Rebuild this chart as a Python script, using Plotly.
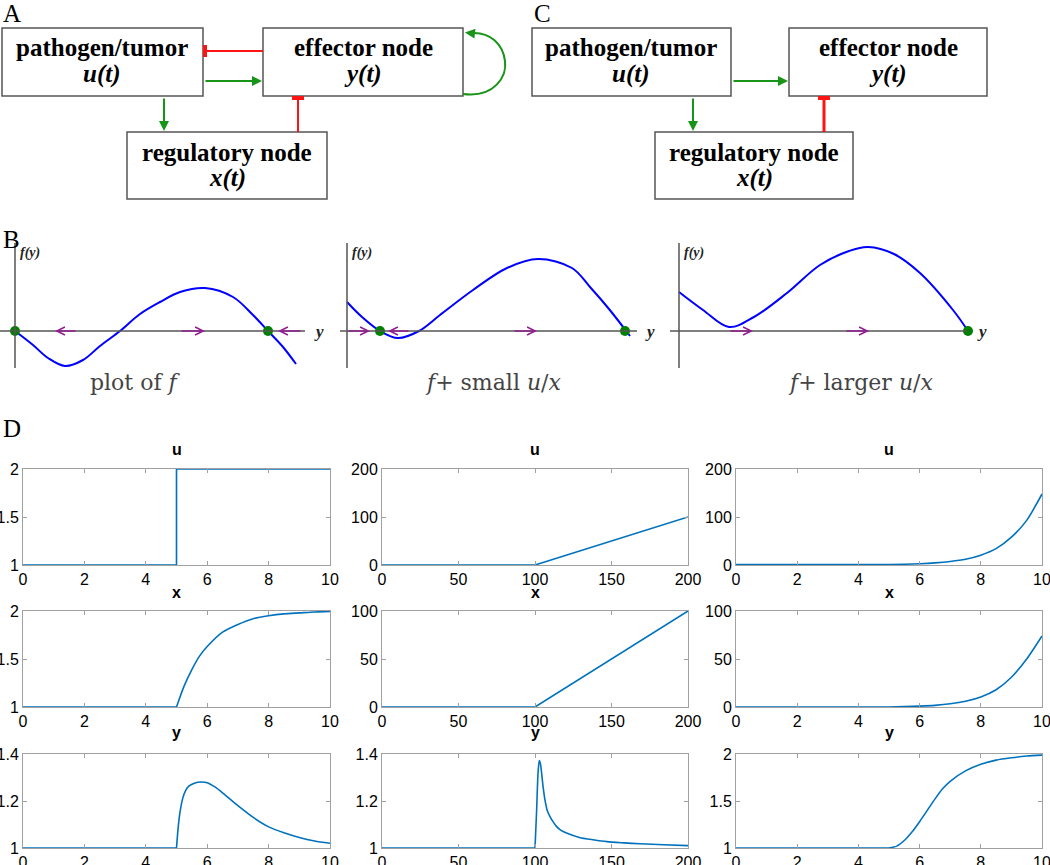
import plotly.graph_objects as go

W, H = 1050, 865

# ---------------- Panel D data ----------------
t1_u = [0, 5, 5, 10]
u1 = [1, 1, 2, 2]
t1_x = [0, 5, 5.25, 5.5, 5.75, 6, 6.5, 7, 7.5, 8, 8.5, 9, 9.5, 10]
x1 = [1, 1, 1.22, 1.39, 1.53, 1.63, 1.78, 1.86, 1.92, 1.95, 1.97, 1.98, 1.99, 1.995]
t1_y = [0, 5, 5.05, 5.1, 5.2, 5.3, 5.4, 5.6, 5.8, 6, 6.25, 6.5, 7, 7.5, 8, 8.5, 9, 9.5, 10]
y1 = [1, 1, 1.08, 1.14, 1.21, 1.245, 1.263, 1.277, 1.281, 1.278, 1.26, 1.235, 1.18, 1.13,
      1.09, 1.065, 1.045, 1.03, 1.02]

t2_u = [0, 100, 200]
u2 = [0, 0, 100]
t2_x = [0, 100, 200]
x2 = [0, 0, 100]
t2_y = [0, 100, 101, 102, 102.8, 103.5, 104.3, 105.3, 106.5, 108, 109.8, 112, 114, 117,
        120.6, 129, 138, 147, 158, 168.5, 184, 200]
y2 = [1, 1, 1.15, 1.32, 1.372, 1.36, 1.32, 1.26, 1.205, 1.16, 1.134, 1.11, 1.092, 1.075,
      1.064, 1.045, 1.035, 1.027, 1.022, 1.018, 1.014, 1.01]

t3_u = [0, 5, 5.5, 6, 6.5, 7, 7.5, 8, 8.5, 9, 9.5, 10]
u3 = [1, 1, 1.6, 2.7, 4.5, 7.4, 12, 20.5, 34, 58, 93, 148]
t3_x = [0, 5, 5.5, 6, 6.5, 7, 7.5, 8, 8.5, 9, 9.5, 10]
x3 = [0, 0, 0.4, 0.9, 1.7, 3.3, 6, 10.5, 18, 31, 50, 74]
t3_y = [0, 5, 5.25, 5.5, 5.75, 6, 6.25, 6.5, 6.75, 7, 7.5, 8, 8.5, 9, 9.5, 10]
y3 = [1, 1, 1.02, 1.08, 1.17, 1.28, 1.4, 1.52, 1.63, 1.71, 1.82, 1.89, 1.935, 1.96, 1.978, 1.988]

row_titles = ["u", "x", "y"]
series = [
    [(t1_u, u1), (t2_u, u2), (t3_u, u3)],
    [(t1_x, x1), (t2_x, x2), (t3_x, x3)],
    [(t1_y, y1), (t2_y, y2), (t3_y, y3)],
]
# index where the smooth (curved) part of each series starts; None = straight segments only
curve_start = [
    [None, None, 1],
    [1, None, 1],
    [1, 1, 1],
]
x_ranges = [[0, 10], [0, 200], [0, 10]]
x_ticks = [[0, 2, 4, 6, 8, 10], [0, 50, 100, 150, 200], [0, 2, 4, 6, 8, 10]]
y_ranges = [
    [[1, 2], [0, 200], [0, 200]],
    [[1, 2], [0, 100], [0, 100]],
    [[1, 1.4], [1, 1.4], [1, 2]],
]
y_ticks = [
    [[1, 1.5, 2], [0, 100, 200], [0, 100, 200]],
    [[1, 1.5, 2], [0, 50, 100], [0, 50, 100]],
    [[1, 1.2, 1.4], [1, 1.2, 1.4], [1, 1.5, 2]],
]

# ---------------- Panel B data (relative units, origin at axes cross) ----------------
b1_y = [0, 18, 33, 50, 68, 85, 105, 125, 145, 165, 190, 218, 238, 253, 268, 281]
b1_f = [0, -14, -27, -35, -29, -15, 0, 17, 29, 39, 43, 34, 16, 0, -16, -33]
b2_y = [0, 15, 33, 51, 72, 93, 126, 160, 191, 225, 243, 262, 283]
b2_f = [29, 14, 0, -7, 0, 16, 41, 63, 72, 63, 44, 22, -5]
b3_y = [0, 24, 50, 75, 108, 141, 170, 189, 215, 241, 274, 289]
b3_f = [39, 21, 4, 14, 38, 66, 80, 84, 77, 58, 21, 0]
b_curves = [(b1_y, b1_f), (b2_y, b2_f), (b3_y, b3_f)]
b_stable = [[0, 253], [33, 278], [289]]
b_unstable = [[105], [72], []]
b_arrows = [  # (tail, head) along the y axis
    [(62, 40), (165, 190), (287, 263)],
    [(0, 23), (63, 41), (166, 190)],
    [(50, 74), (166, 190)],
]
b_captions = ["plot of <i>f</i>", "<i>f</i>+ small <i>u</i>/<i>x</i>", "<i>f</i>+ larger <i>u</i>/<i>x</i>"]

# ---------------- helpers ----------------
def px(x):
    return x / W

def py(y):
    return 1 - y / H

LINE_BLUE = "rgb(0,114,189)"
GRID_GREY = "#a0a0a0"
GREEN = "rgb(24,148,24)"
RED = "rgb(255,20,20)"
PURPLE = "rgb(145,30,145)"

fig = go.Figure()
layout = dict(
    width=W, height=H, margin=dict(l=0, r=0, t=0, b=0, pad=0), autosize=False,
    paper_bgcolor="white", plot_bgcolor="rgba(0,0,0,0)", showlegend=False,
)
annotations = []
shapes = []

col_px = [(23, 330), (382, 688), (736, 1042)]
row_px = [(469, 565), (611, 707), (754, 848)]
title_y = [450, 592, 732]

for r in range(3):
    for c in range(3):
        n = r * 3 + c + 1
        sfx = "" if n == 1 else str(n)
        t, v = series[r][c]
        k = curve_start[r][c]
        if k is None:
            fig.add_trace(go.Scatter(x=t, y=v, mode="lines", line=dict(color=LINE_BLUE, width=1.6),
                                     xaxis="x" + sfx, yaxis="y" + sfx, hoverinfo="skip"))
        else:
            fig.add_trace(go.Scatter(x=t[:k + 1], y=v[:k + 1], mode="lines",
                                     line=dict(color=LINE_BLUE, width=1.6),
                                     xaxis="x" + sfx, yaxis="y" + sfx, hoverinfo="skip"))
            fig.add_trace(go.Scatter(x=t[k:], y=v[k:], mode="lines",
                                     line=dict(color=LINE_BLUE, width=1.6, shape="spline", smoothing=0.7),
                                     xaxis="x" + sfx, yaxis="y" + sfx, hoverinfo="skip"))
        common = dict(showline=True, linecolor=GRID_GREY, linewidth=1, mirror="allticks",
                      ticks="inside", ticklen=4, tickcolor=GRID_GREY, showgrid=False,
                      zeroline=False, tickfont=dict(family="Liberation Sans, Arial", size=16, color="black"),
                      fixedrange=True, automargin=False, ticklabeloverflow="allow")
        layout["xaxis" + sfx] = dict(common, domain=[px(col_px[c][0]), px(col_px[c][1])],
                                     range=x_ranges[c], tickvals=x_ticks[c],
                                     ticktext=[str(k2) for k2 in x_ticks[c]], anchor="y" + sfx)
        yt = y_ticks[r][c]
        layout["yaxis" + sfx] = dict(common, domain=[py(row_px[r][1]), py(row_px[r][0])],
                                     range=y_ranges[r][c], tickvals=yt,
                                     ticktext=[("%g" % k2) for k2 in yt], anchor="x" + sfx)
        annotations.append(dict(xref="paper", yref="paper", x=px((col_px[c][0] + col_px[c][1]) / 2),
                                y=py(title_y[r]), text="<b>%s</b>" % row_titles[r], showarrow=False,
                                xanchor="center", yanchor="middle",
                                font=dict(family="Liberation Sans, Arial", size=16, color="black")))

# ---------------- Panel B axes ----------------
b_dom_px = [(0, 320), (340, 660), (670, 990)]
b_origin = [15, 347, 679]
b_axis_end = [290, 290, 288]
b_ylab = [297, 296, 296]
B_TOP, B_BOT, B_AXIS = 235, 380, 331
for i in range(3):
    n = 10 + i
    xa, ya = "x%d" % n, "y%d" % n
    x0 = b_dom_px[i][0] - b_origin[i]
    layout["xaxis%d" % n] = dict(domain=[px(b_dom_px[i][0]), px(b_dom_px[i][1])],
                                  range=[x0, x0 + (b_dom_px[i][1] - b_dom_px[i][0])],
                                  visible=False, fixedrange=True, anchor=ya)
    layout["yaxis%d" % n] = dict(domain=[py(B_BOT), py(B_TOP)],
                                  range=[B_AXIS - B_BOT, B_AXIS - B_TOP],
                                  visible=False, fixedrange=True, anchor=xa)
    shapes.append(dict(type="line", xref=xa, yref=ya, x0=0, x1=0, y0=88, y1=-37,
                       line=dict(color="#555555", width=1.5)))
    shapes.append(dict(type="line", xref=xa, yref=ya, x0=x0, x1=b_axis_end[i], y0=0, y1=0,
                       line=dict(color="#555555", width=1.5)))
    by, bf = b_curves[i]
    fig.add_trace(go.Scatter(x=by, y=bf, mode="lines", line=dict(color="#0000ff", width=2, shape="spline"),
                             xaxis=xa, yaxis=ya, hoverinfo="skip"))
    for tail, head in b_arrows[i]:
        annotations.append(dict(xref=xa, yref=ya, axref=xa, ayref=ya, x=head, y=0, ax=tail, ay=0,
                                showarrow=True, arrowhead=5, arrowsize=1, arrowwidth=1.6,
                                arrowcolor=PURPLE, text=""))
    if b_stable[i]:
        fig.add_trace(go.Scatter(x=b_stable[i], y=[0] * len(b_stable[i]), mode="markers",
                                 marker=dict(color="rgb(0,128,0)", size=10, line=dict(width=0)),
                                 xaxis=xa, yaxis=ya, hoverinfo="skip"))
    if b_unstable[i]:
        fig.add_trace(go.Scatter(x=b_unstable[i], y=[0] * len(b_unstable[i]), mode="markers",
                                 marker=dict(color="rgba(0,0,0,0)", size=9, symbol="circle-open",
                                             line=dict(color="red", width=1.6)),
                                 xaxis=xa, yaxis=ya, hoverinfo="skip"))
    annotations.append(dict(xref=xa, yref=ya, x=b_ylab[i], y=0, text="<b><i>y</i></b>", showarrow=False,
                            xanchor="left", yanchor="middle",
                            font=dict(family="Liberation Serif", size=17, color="#222")))
    annotations.append(dict(xref=xa, yref=ya, x=3, y=78, text="<b><i>f(y)</i></b>", showarrow=False,
                            xanchor="left", yanchor="middle",
                            font=dict(family="Liberation Serif", size=14, color="#222")))

cap_x = [135, 493, 860]
for i in range(3):
    annotations.append(dict(xref="paper", yref="paper", x=px(cap_x[i]), y=py(383), text=b_captions[i],
                            showarrow=False, xanchor="center", yanchor="middle",
                            font=dict(family="DejaVu Serif", size=22, color="#444")))

# ---------------- Panel letters ----------------
for letter, lx, ly in [("A", 1, 13), ("C", 532, 13), ("B", 1, 240), ("D", 1, 428)]:
    annotations.append(dict(xref="paper", yref="paper", x=px(lx), y=py(ly), text=letter, showarrow=False,
                            xanchor="left", yanchor="middle",
                            font=dict(family="Liberation Serif", size=25, color="black")))

# ---------------- Panels A and C: diagrams ----------------
def box(x0, y0, x1, y1):
    shapes.append(dict(type="rect", xref="paper", yref="paper", x0=px(x0), x1=px(x1), y0=py(y1), y1=py(y0),
                       line=dict(color="#555555", width=1.5), fillcolor="rgba(0,0,0,0)"))

def label(cx, cy, txt, italic=False):
    t = "<b><i>%s</i></b>" % txt if italic else "<b>%s</b>" % txt
    annotations.append(dict(xref="paper", yref="paper", x=px(cx), y=py(cy), text=t, showarrow=False,
                            xanchor="center", yanchor="middle",
                            font=dict(family="Liberation Serif", size=25, color="black")))

def green_arrow(x0, y0, x1, y1):
    annotations.append(dict(xref="paper", yref="paper", x=px(x1), y=py(y1), ax=x0 - x1, ay=y0 - y1,
                            showarrow=True, arrowhead=2, arrowsize=1, arrowwidth=2,
                            arrowcolor=GREEN, text=""))

def red_bar(x0, y0, x1, y1, bx0, by0, bx1, by1, w):
    shapes.append(dict(type="line", xref="paper", yref="paper", x0=px(x0), y0=py(y0), x1=px(x1), y1=py(y1),
                       line=dict(color=RED, width=w)))
    shapes.append(dict(type="rect", xref="paper", yref="paper", x0=px(bx0), x1=px(bx1), y0=py(by1), y1=py(by0),
                       line=dict(width=0), fillcolor=RED))

# A
box(2, 28, 203, 96)
box(263, 28, 463, 96)
box(127, 132, 327, 199)
label(102, 48, "pathogen/tumor")
label(102, 74, "u(t)", True)
label(363, 48, "effector node")
label(363, 74, "y(t)", True)
label(227, 152, "regulatory node")
label(227, 178, "x(t)", True)
red_bar(263, 51, 206, 51, 203, 45, 207, 57, 2)
green_arrow(204, 81, 262, 81)
green_arrow(164, 97, 164, 131)
red_bar(298, 132, 298, 99, 292, 96, 304, 100, 2)
pts = [(463, 94), (495, 98), (507, 76), (505, 61), (503, 44), (490, 32), (472, 33)]
path = "M %f,%f C %f,%f %f,%f %f,%f C %f,%f %f,%f %f,%f" % tuple(
    v for p in pts for v in (px(p[0]), py(p[1])))
shapes.append(dict(type="path", xref="paper", yref="paper", path=path, line=dict(color=GREEN, width=2)))
annotations.append(dict(xref="paper", yref="paper", x=px(465), y=py(32.5), ax=9, ay=1,
                        showarrow=True, arrowhead=2, arrowsize=1, arrowwidth=2, arrowcolor=GREEN, text=""))

# C
box(532, 28, 731, 96)
box(789, 28, 987, 96)
box(655, 132, 853, 199)
label(631, 48, "pathogen/tumor")
label(631, 74, "u(t)", True)
label(888, 48, "effector node")
label(888, 74, "y(t)", True)
label(754, 152, "regulatory node")
label(754, 178, "x(t)", True)
green_arrow(732, 81, 788, 81)
green_arrow(693, 97, 693, 131)
red_bar(824, 132, 824, 99, 818, 96, 830, 100, 3)

layout["annotations"] = annotations
layout["shapes"] = shapes
fig.update_layout(**layout)
fig.write_html("out.html", config={"displayModeBar": False},
               post_script="document.body.style.margin='0px';document.body.style.overflow='hidden';")
